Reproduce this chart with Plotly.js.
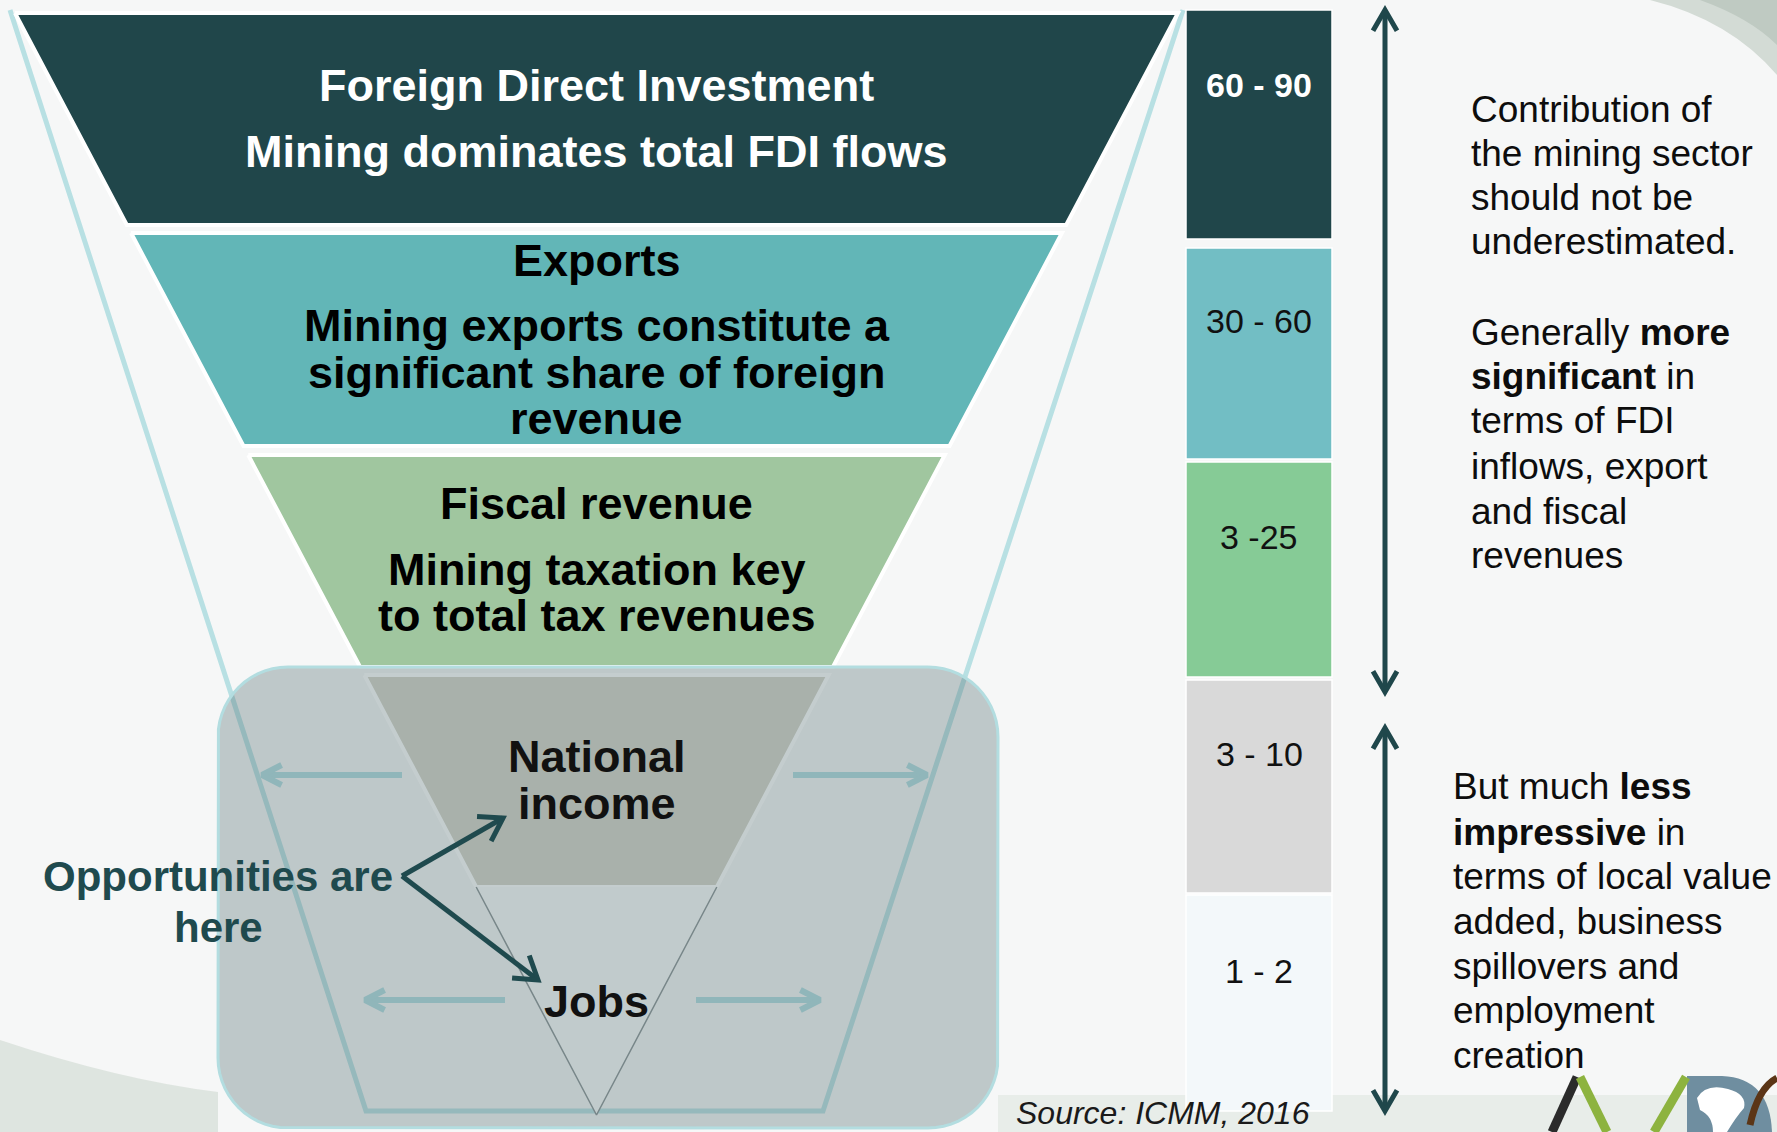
<!DOCTYPE html>
<html><head><meta charset="utf-8">
<script src="https://cdn.plot.ly/plotly-3.0.1.min.js"></script>
<style>html,body{margin:0;padding:0;background:#f6f7f7;overflow:hidden}</style>
</head><body><div id="chart" style="width:1777px;height:1132px"></div>
<script>
// ---------------- data ----------------
const stages = ['Foreign Direct Investment','Exports','Fiscal revenue','National income','Jobs'];
const stageLines = [
  ['<b>Foreign Direct Investment</b>','<b>Mining dominates total FDI flows</b>'],
  ['<b>Exports</b>','<b>Mining exports constitute a</b>','<b>significant share of foreign</b>','<b>revenue</b>'],
  ['<b>Fiscal revenue</b>','<b>Mining taxation key</b>','<b>to total tax revenues</b>'],
  ['<b>National</b>','<b>income</b>'],
  ['<b>Jobs</b>']
];
const shareRanges = ['60 - 90','30 - 60','3 -25','3 - 10','1 - 2'];
const stageColors = ['#20464a','#62b6b7','#a0c69f','#d6d5ca','#fbfcfc'];
const rangeColors = ['#20464a','#72bec4','#86cb96','#d9d9d9','#f3f8fa'];
const stageTextColors = ['#ffffff','#000000','#000000','#111111','#111111'];
const rangeTextColors = ['#ffffff','#111111','#111111','#111111','#111111'];
const noteTop = ['Contribution of','the mining sector','should not be','underestimated.',
  'Generally <b>more</b>','<b>significant</b> in','terms of FDI','inflows, export','and fiscal','revenues'];
const noteBottom = ['But much <b>less</b>','<b>impressive</b> in','terms of local value','added, business',
  'spillovers and','employment','creation'];
const opportunityLines = ['<b>Opportunities are</b>','<b>here</b>'];
const sourceText = '<i>Source: ICMM, 2016</i>';

// ---------------- layout geometry ----------------
const W = 1777, H = 1132;
const FONT = 'Liberation Sans, Arial, sans-serif';
const CX = 596.5, TOPY = 13, APEXY = 1115, HALF = 581.5;
const bandTop = [13, 233, 455, 675, 887];
const bandBot = [225, 446, 667, 887, 1115];
const stageTextY = [[85,151],[260,325,372,418],[503,569,615],[756,803],[1001]];
const barX = 1259, barW = 146;
const barTop = [10, 248, 462, 680, 895];
const barBot = [239, 459, 677, 893, 1111];
const barLabelY = [85, 321, 537, 754, 971];
const noteTopY = [109,153,197,241, 332,376,420,466,511,555];
const noteBottomY = [786,832,876,921,966,1010,1055];

function hw(y){ return HALF * (APEXY - y) / (APEXY - TOPY); }

function arrow(x0,y0,x1,y1,len,ang){
  const a = Math.atan2(y1-y0, x1-x0), t = ang*Math.PI/180;
  return {
    x:[x0,x1,null,x1-len*Math.cos(a-t),x1,x1-len*Math.cos(a+t)],
    y:[y0,y1,null,y1-len*Math.sin(a-t),y1,y1-len*Math.sin(a+t)]
  };
}
function dblArrow(x,y0,y1,len,ang){
  const a = arrow(x,y0,x,y1,len,ang), b = arrow(x,y1,x,y0,len,ang);
  return {x:a.x.concat([null]).concat(b.x.slice(3)), y:a.y.concat([null]).concat(b.y.slice(3))};
}
function roundRect(x0,y0,x1,y1,r){
  const xs=[],ys=[],n=14;
  const corners=[[x1-r,y0+r,-90,0],[x1-r,y1-r,0,90],[x0+r,y1-r,90,180],[x0+r,y0+r,180,270]];
  corners.forEach(c=>{for(let i=0;i<=n;i++){const a=(c[2]+(c[3]-c[2])*i/n)*Math.PI/180;xs.push(c[0]+r*Math.cos(a));ys.push(c[1]+r*Math.sin(a));}});
  xs.push(xs[0]); ys.push(ys[0]);
  return {x:xs,y:ys};
}

const traces = [];
const base = {type:'scatter', mode:'lines', hoverinfo:'skip', showlegend:false};

// outer light frame of funnel
traces.push(Object.assign({}, base, {x:[10,366,823,1183], y:[10,1111,1111,10],
  line:{color:'#b8e0e3', width:5}}));

// funnel bands
stages.forEach((s,i)=>{
  const t = bandTop[i], b = bandBot[i];
  const last = i === stages.length - 1;
  const xs = last ? [CX-hw(t), CX+hw(t), CX, CX-hw(t)] : [CX-hw(t), CX+hw(t), CX+hw(b), CX-hw(b), CX-hw(t)];
  const ys = last ? [t, t, b, t] : [t, t, b, b, t];
  traces.push(Object.assign({}, base, {name:s, x:xs, y:ys, fill:'toself', fillcolor:stageColors[i],
    line:{color: last ? 'rgba(0,0,0,0)' : '#ffffff', width: last ? 0 : 4}}));
  if (last) {
    traces.push(Object.assign({}, base, {x:[CX-hw(t), CX, CX+hw(t)], y:[t, b, t],
      line:{color:'#8a9395', width:1.5}}));
  }
});

// translucent rounded box
const box = roundRect(218, 667, 998, 1128, 70);
traces.push(Object.assign({}, base, {x:box.x, y:box.y, fill:'toself', fillcolor:'rgba(85,111,116,0.35)',
  line:{color:'#b3dde0', width:3}}));

// light arrows in the box
[[402,775,262,775],[793,775,927,775],[505,1000,365,1000],[696,1000,820,1000]].forEach(p=>{
  const a = arrow(p[0],p[1],p[2],p[3],22,27);
  traces.push(Object.assign({}, base, {x:a.x, y:a.y, line:{color:'#90b6ba', width:6}}));
});
// dark arrows from "Opportunities are here"
[[402,876,503,818],[402,876,538,980]].forEach(p=>{
  const a = arrow(p[0],p[1],p[2],p[3],26,33);
  traces.push(Object.assign({}, base, {x:a.x, y:a.y, line:{color:'#1f4a4e', width:5}}));
});
// vertical double arrows
[[10,692],[728,1111]].forEach(p=>{
  const a = dblArrow(1385,p[0],p[1],24,30);
  traces.push(Object.assign({}, base, {x:a.x, y:a.y, line:{color:'#1f474b', width:5}}));
});

// range blocks as bars
traces.push({type:'bar', x:shareRanges.map(()=>barX), y:barTop.map((t,i)=>barBot[i]-t), base:barTop,
  width:barW, marker:{color:rangeColors, line:{color:'#ffffff', width:1.5}}, hoverinfo:'skip', showlegend:false});

// ---------------- annotations ----------------
const ann = [];
function txt(x,y,text,size,color,anchor){
  ann.push({x:x, y:y, xref:'x', yref:'y', text:text, showarrow:false, xanchor:anchor||'center', yanchor:'middle',
    font:{family:FONT, size:size, color:color}});
}
stageLines.forEach((lines,i)=>lines.forEach((l,j)=>txt(CX, stageTextY[i][j], l, 45, stageTextColors[i])));
shareRanges.forEach((r,i)=>txt(barX, barLabelY[i], i===0 ? '<b>'+r+'</b>' : r, 34, rangeTextColors[i]));
noteTop.forEach((l,i)=>txt(1469, noteTopY[i], l, 37, '#0d0d0d', 'left'));
noteBottom.forEach((l,i)=>txt(1451, noteBottomY[i], l, 37, '#0d0d0d', 'left'));
opportunityLines.forEach((l,i)=>txt(218, [876,927][i], l, 42, '#1f4a4e'));
txt(1312, 1113, sourceText, 32, '#1a1a1a', 'right');

// ---------------- decoration (background + logo) ----------------
const shapes = [
  {type:'rect', xref:'x', yref:'y', x0:998, x1:W, y0:1095, y1:H, fillcolor:'#e8ede9', line:{width:0}, layer:'below'},
  {type:'path', xref:'x', yref:'y', path:'M0,1040 Q120,1080 218,1092 L218,1132 L0,1132 Z', fillcolor:'#cfd8d1', line:{width:0}, layer:'below', opacity:0.6},
  {type:'path', xref:'x', yref:'y', path:'M1650,0 Q1730,20 1777,75 L1777,0 Z', fillcolor:'#d3dbd5', line:{width:0}, layer:'below'},
  {type:'path', xref:'x', yref:'y', path:'M1700,0 Q1750,18 1777,45 L1777,0 Z', fillcolor:'#bfcac2', line:{width:0}, layer:'below'},
  // logo
  {type:'path', xref:'x', yref:'y', path:'M1687,1076 L1722,1076 Q1770,1078 1772,1132 L1687,1132 Z', fillcolor:'#6f8ea0', line:{width:0}, layer:'above'},
  {type:'path', xref:'x', yref:'y', path:'M1697,1098 Q1706,1083 1728,1089 Q1747,1094 1744,1108 Q1736,1117 1727,1132 L1713,1132 Q1713,1116 1700,1110 Z', fillcolor:'#ffffff', line:{width:0}, layer:'above'},
  {type:'line', xref:'x', yref:'y', x0:1577, y0:1077, x1:1552, y1:1132, line:{color:'#2b2b2b', width:9}, layer:'above'},
  {type:'line', xref:'x', yref:'y', x0:1580, y0:1077, x1:1607, y1:1132, line:{color:'#8db33f', width:9}, layer:'above'},
  {type:'line', xref:'x', yref:'y', x0:1686, y0:1077, x1:1654, y1:1132, line:{color:'#8db33f', width:9}, layer:'above'},
  {type:'path', xref:'x', yref:'y', path:'M1750,1125 Q1758,1088 1777,1078', line:{color:'#5b3516', width:7}, layer:'above'}
];

const layout = {
  width:W, height:H, margin:{l:0,r:0,t:0,b:0,pad:0},
  paper_bgcolor:'#f6f7f7', plot_bgcolor:'rgba(0,0,0,0)',
  xaxis:{range:[0,W], visible:false, fixedrange:true},
  yaxis:{range:[H,0], visible:false, fixedrange:true},
  barmode:'overlay', showlegend:false,
  annotations:ann, shapes:shapes
};
Plotly.newPlot('chart', traces, layout, {staticPlot:true, displayModeBar:false});
</script></body></html>
